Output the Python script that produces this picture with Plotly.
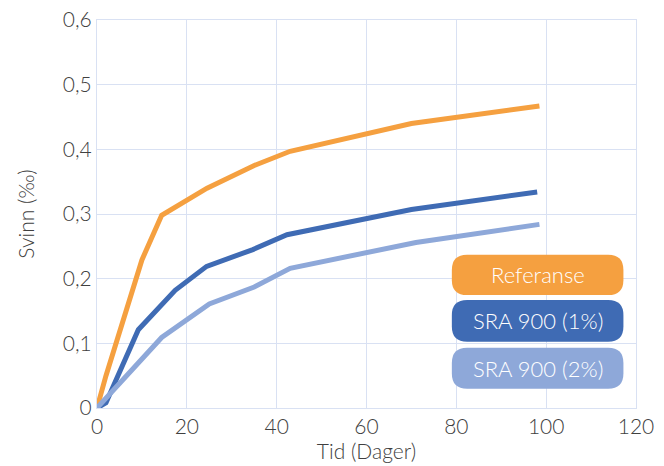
import plotly.graph_objects as go

# ---- data ----
ref_x = [0, 2, 10, 14.4, 24.5, 35, 43, 70, 98.5]
ref_y = [0, 0.05, 0.229, 0.298, 0.340, 0.375, 0.397, 0.440, 0.467]

sra1_x = [0, 2, 9.2, 17.4, 24.4, 34.7, 42.3, 70, 98]
sra1_y = [0, 0.008, 0.121, 0.182, 0.219, 0.245, 0.268, 0.307, 0.334]

sra2_x = [0, 9.6, 14.4, 25, 35, 43, 71, 98.5]
sra2_y = [0, 0.071, 0.109, 0.161, 0.187, 0.216, 0.256, 0.284]

series_names = ["Referanse", "SRA 900 (1%)", "SRA 900 (2%)"]
colors = ["#F5A040", "#3F6BB4", "#8EA8D9"]

x_ticks = [0, 20, 40, 60, 80, 100, 120]
x_ticktext = ["0", "20", "40", "60", "80", "100", "120"]
y_ticks = [0, 0.1, 0.2, 0.3, 0.4, 0.5, 0.6]
y_ticktext = ["0", "0,1", "0,2", "0,3", "0,4", "0,5", "0,6"]

FONT = "Lato Light, Lato"
TXT = "#404040"
GRID = "#D9E1F3"

fig = go.Figure()
for xs, ys, name, c in zip([ref_x, sra1_x, sra2_x], [ref_y, sra1_y, sra2_y], series_names, colors):
    fig.add_trace(go.Scatter(x=xs, y=ys, mode="lines", name=name,
                             line=dict(color=c, width=5), showlegend=False))

# ---- custom rounded legend boxes (positions in data units of the fixed axes) ----
X0, X1 = 79.0, 117.2
boxes_y = [(0.1746, 0.237), (0.1025, 0.1669), (0.0298, 0.0932)]
rx, ry = 3.4, 0.0235


def rounded(x0, x1, y0, y1):
    return (f"M {x0+rx},{y0} L {x1-rx},{y0} Q {x1},{y0} {x1},{y0+ry} "
            f"L {x1},{y1-ry} Q {x1},{y1} {x1-rx},{y1} L {x0+rx},{y1} "
            f"Q {x0},{y1} {x0},{y1-ry} L {x0},{y0+ry} Q {x0},{y0} {x0+rx},{y0} Z")


for (y0, y1), name, c in zip(boxes_y, series_names, colors):
    fig.add_shape(type="path", path=rounded(X0, X1, y0, y1), xref="x", yref="y",
                  fillcolor=c, line=dict(width=0), layer="above")
    fig.add_annotation(x=(X0 + X1) / 2, y=(y0 + y1) / 2, xref="x", yref="y",
                       text=name, showarrow=False,
                       font=dict(family=FONT, size=22, color="#FFFFFF"))

fig.update_layout(
    width=664, height=466,
    margin=dict(l=97, r=28, t=20, b=58),
    paper_bgcolor="white", plot_bgcolor="white",
    font=dict(family=FONT, color=TXT, size=21),
    hovermode=False,
)
fig.update_xaxes(range=[0, 120], tickvals=x_ticks, ticktext=x_ticktext, automargin=False,
                 showgrid=True, gridcolor=GRID, gridwidth=1,
                 zeroline=True, zerolinecolor=GRID, zerolinewidth=1,
                 showline=True, mirror=True, linecolor=GRID, linewidth=1,
                 ticks="", tickfont=dict(size=21, color=TXT),
                 title=dict(text="Tid (Dager)", font=dict(size=21, color=TXT), standoff=2))
fig.update_yaxes(range=[0, 0.6], tickvals=y_ticks, ticktext=y_ticktext, automargin=False,
                 showgrid=True, gridcolor=GRID, gridwidth=1,
                 zeroline=True, zerolinecolor=GRID, zerolinewidth=1,
                 showline=True, mirror=True, linecolor=GRID, linewidth=1,
                 ticks="", tickfont=dict(size=21, color=TXT),
                 title=dict(text="Svinn (‰)", font=dict(size=21, color=TXT), standoff=22))

# remove the browser's default 8px body margin so the figure fills the window exactly
fig.write_html("out.html", config={"displayModeBar": False},
               post_script="document.body.style.margin='0';")
